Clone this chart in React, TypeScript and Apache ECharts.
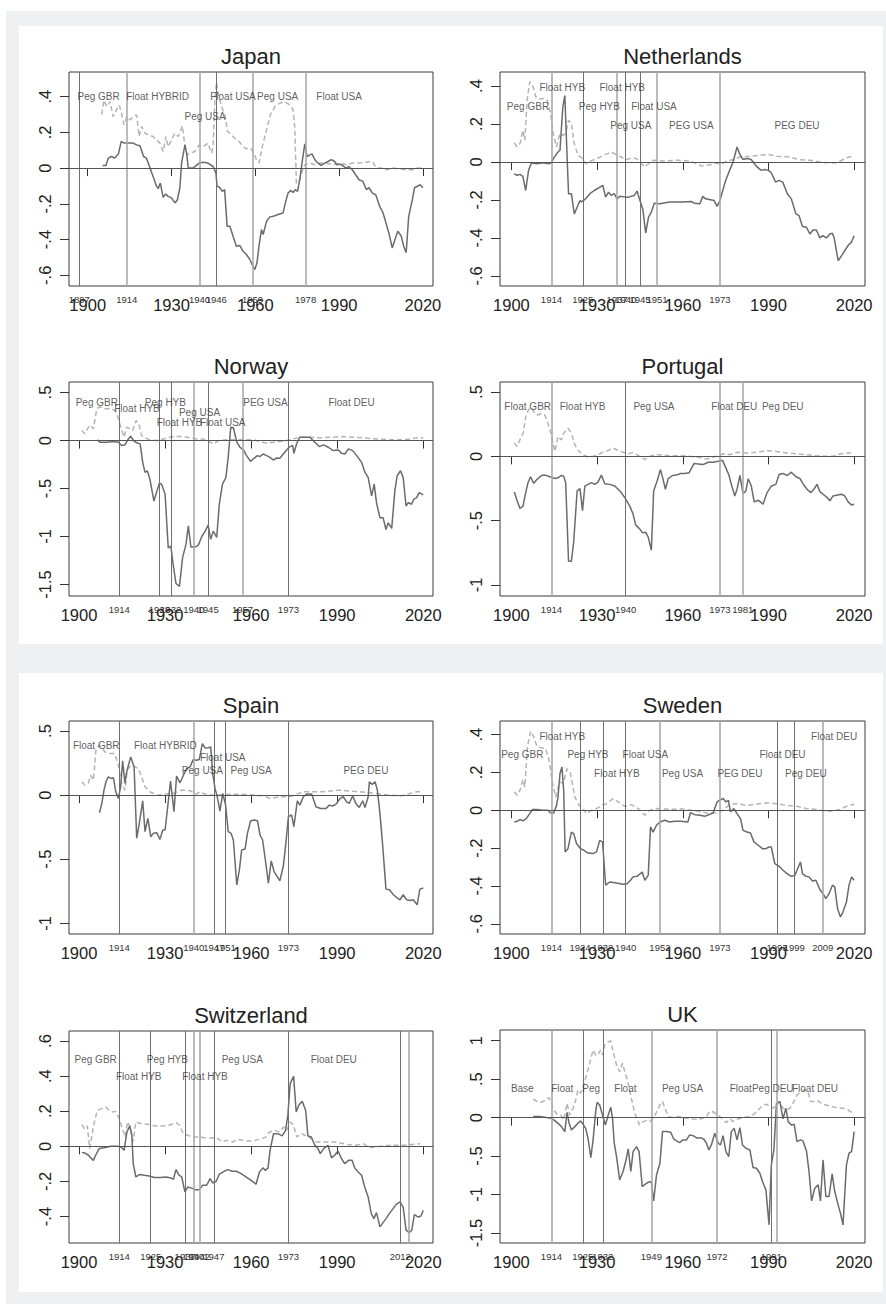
import React, { useEffect, useRef } from "react";
import * as echarts from "echarts";

type Pt = [number, number];
type Lab = [string, number, number];

const FONT = "'Liberation Sans', Arial, Helvetica, sans-serif";
const xTickYears = [1900, 1930, 1960, 1990, 2020];

// ---------------- Japan ----------------
const japanEvents = [1897, 1914, 1940, 1946, 1959, 1978];
const japanTones = ["d", "l", "l", "d", "l", "l"];
const japanYTicks = [-0.6, -0.4, -0.2, 0, 0.2, 0.4];
const japanSolid: Pt[] = [
  [1905.3, 0.015], [1906.5, 0.015], [1907.4, 0.056], [1908.5, 0.065], [1909.7, 0.056], [1911, 0.08], [1912, 0.15],
  [1913, 0.14], [1914, 0.14], [1916.3, 0.14], [1917.5, 0.13], [1918.7, 0.125], [1920, 0.065], [1921, 0.056],
  [1922.3, 0], [1923.4, -0.047], [1924.6, -0.1], [1925.2, -0.115], [1926, -0.084], [1927, -0.164], [1927.9, -0.145],
  [1928.8, -0.158], [1930, -0.167], [1931.2, -0.195], [1932.1, -0.177], [1933, -0.11], [1933.6, 0.028], [1934.8, 0.13],
  [1935.4, 0.084], [1936, 0], [1937.7, 0], [1939.9, 0.028], [1941.3, 0.033], [1943, 0.028], [1944.9, 0.009],
  [1945.9, -0.028], [1946.3, -0.1], [1947.3, -0.11], [1948.2, -0.13], [1949, -0.12], [1949.9, -0.325], [1950.9, -0.325],
  [1952, -0.38], [1953.2, -0.437], [1954.4, -0.433], [1955.6, -0.465], [1956.8, -0.484], [1958, -0.51], [1959.2, -0.55],
  [1959.8, -0.567], [1960.6, -0.53], [1961.3, -0.437], [1962.2, -0.344], [1962.8, -0.372], [1964, -0.298], [1965.2, -0.273],
  [1966.4, -0.27], [1968.1, -0.26], [1969.9, -0.251], [1970.9, -0.186], [1971.7, -0.14], [1972.6, -0.125], [1973.5, -0.136],
  [1974.3, -0.121], [1975.1, -0.13], [1975.9, -0.065], [1976.7, 0.028], [1977.7, 0.136], [1978.5, 0.065], [1979.5, 0.074],
  [1980.3, 0.08], [1981.3, 0.047], [1982.4, 0.028], [1983.6, 0.015], [1984.8, 0.028], [1986, 0.037], [1987.2, 0.047],
  [1988.4, 0.037], [1989.2, 0.019], [1990.2, 0.022], [1991.4, 0.013], [1992.3, 0], [1993.5, 0.009], [1994.7, -0.009],
  [1995.9, -0.037], [1997.1, -0.065], [1998.5, -0.074], [1999.7, -0.12], [2000.7, -0.11], [2001.9, -0.14], [2003.1, -0.149],
  [2004.5, -0.214], [2005.7, -0.25], [2006.6, -0.298], [2007.8, -0.363], [2009, -0.447], [2010.2, -0.39], [2011, -0.353],
  [2012.2, -0.38], [2013.1, -0.437], [2014, -0.474], [2014.9, -0.27], [2016.2, -0.177], [2017, -0.11], [2018.2, -0.1],
  [2019, -0.093], [2020, -0.11],
];
const japanDashed: Pt[] = [
  [1905, 0.3], [1905.8, 0.38], [1906.8, 0.344], [1908, 0.372], [1909.1, 0.288], [1910.3, 0.326], [1911.3, 0.353],
  [1912.1, 0.307], [1913, 0.242], [1914, 0.288], [1915.1, 0.27], [1916.3, 0.288], [1917.5, 0.298], [1918.4, 0.177],
  [1919.3, 0.233], [1920.5, 0.195], [1921.7, 0.186], [1923.4, 0.177], [1924.6, 0.158], [1925.8, 0.14], [1927, 0.093],
  [1928, 0.177], [1928.8, 0.12], [1930, 0.158], [1931.2, 0.195], [1932.4, 0.177], [1933.9, 0.236], [1934.8, 0.12],
  [1935.6, 0.074], [1936.8, 0.084], [1938.3, 0.093], [1939.9, 0.13], [1941.3, 0.12], [1943, 0.14], [1944.3, 0.084],
  [1944.9, 0.12], [1945.5, 0.38], [1946.1, 0.48], [1946.7, 0.42], [1947.9, 0.344], [1949.1, 0.3], [1950, 0.205],
  [1950.9, 0.195], [1952, 0.177], [1953.2, 0.158], [1954.4, 0.145], [1955.6, 0.12], [1956.8, 0.108], [1958.2, 0.112],
  [1959.2, 0.093], [1960.4, 0.047], [1961.3, 0.028], [1962.5, 0.12], [1964, 0.214], [1965.4, 0.3], [1967, 0.344],
  [1968.7, 0.363], [1970.5, 0.372], [1972.3, 0.353], [1973.5, 0.326], [1974.1, 0.233], [1974.7, -0.084], [1975.5, -0.084],
  [1976.5, -0.028], [1977.7, 0.019], [1979.5, 0.028], [1981.3, 0.019], [1983, 0.028], [1985.4, 0.028], [1987.8, 0.019],
  [1990.2, 0.028], [1992.6, 0.019], [1995, 0.028], [1997.3, 0.028], [1999.7, 0.033], [2001.9, 0.037], [2003.3, 0],
  [2005.7, 0], [2006.9, -0.009], [2009.3, 0], [2011.6, -0.004], [2014, -0.009], [2016.4, -0.009], [2017.6, 0], [2020, 0],
];
const japanRegimes: Lab[] = [
  ["Peg GBR", 1903.9, 0.4], ["Float HYBRID", 1925, 0.4], ["Peg USA", 1942, 0.288],
  ["Float USA", 1952, 0.4], ["Peg USA", 1968, 0.4], ["Float USA", 1990, 0.4],
];

// ---------------- Netherlands ----------------
const netherlandsEvents = [1914, 1925, 1937, 1940, 1945, 1951, 1973];
const netherlandsTones = ["l", "d", "l", "d", "d", "l", "l"];
const netherlandsYTicks = [-0.6, -0.4, -0.2, 0, 0.2, 0.4];
const netherlandsSolid: Pt[] = [
  [1901, -0.062], [1902, -0.07], [1903, -0.065], [1904, -0.076], [1905, -0.15], [1906, -0.044], [1907, -0.005],
  [1909, -0.009], [1911, -0.004], [1913, -0.009], [1914, -0.004], [1915, 0.026], [1916.3, 0.053], [1917, 0.062],
  [1918, 0.29], [1918.7, 0.35], [1919.5, 0.026], [1920, -0.167], [1921, -0.167], [1922, -0.273], [1923, -0.238],
  [1924, -0.203], [1924.5, -0.21], [1926, -0.194], [1927.5, -0.167], [1929, -0.15], [1931, -0.132], [1932, -0.123],
  [1933, -0.185], [1934, -0.159], [1935, -0.176], [1936, -0.167], [1937, -0.194], [1938, -0.18], [1940, -0.185],
  [1941, -0.185], [1943, -0.176], [1944, -0.153], [1945, -0.203], [1946, -0.247], [1947, -0.374], [1948, -0.29],
  [1949, -0.264], [1950, -0.217], [1952, -0.22], [1955.4, -0.211], [1960, -0.211], [1963, -0.208], [1964, -0.217],
  [1966, -0.22], [1967, -0.181], [1968, -0.194], [1971, -0.203], [1972, -0.234], [1973, -0.203], [1974, -0.15],
  [1975, -0.097], [1976.5, -0.04], [1977.6, 0], [1979, 0.079], [1980, 0.04], [1981, 0.014], [1983, 0.018], [1984, 0.012],
  [1986, -0.026], [1987.5, -0.044], [1988.7, -0.04], [1990, -0.044], [1991, -0.058], [1992.5, -0.106], [1993.7, -0.097],
  [1995, -0.106], [1996.6, -0.167], [1998, -0.194], [1999.6, -0.273], [2000.7, -0.282], [2001.9, -0.34], [2003.3, -0.344],
  [2004.5, -0.379], [2005.6, -0.358], [2006.8, -0.358], [2008, -0.4], [2009, -0.388], [2010.3, -0.4], [2011.5, -0.379],
  [2012.4, -0.375], [2013, -0.4], [2014.4, -0.52], [2015.6, -0.493], [2016.7, -0.467], [2018, -0.437], [2019, -0.423],
  [2020, -0.388],
];
const netherlandsDashed: Pt[] = [
  [1901, 0.1], [1902, 0.08], [1903, 0.097], [1904, 0.167], [1904.7, 0.115], [1905.5, 0.326], [1906.4, 0.423],
  [1907.6, 0.396], [1908.5, 0.344], [1909.7, 0.33], [1911, 0.335], [1912.5, 0.326], [1913.7, 0.256], [1914.6, 0.15],
  [1915.8, 0.08], [1917, 0.15], [1918, 0.141], [1919, 0.15], [1920, 0.22], [1921, 0.203], [1922, 0.097], [1923.3, 0.035],
  [1925, 0.018], [1926, -0.009], [1927.4, 0.005], [1929, 0.012], [1931, 0.026], [1933, 0.04], [1935, 0.053],
  [1936, 0.044], [1938, 0.03], [1940, 0.012], [1942, 0.021], [1943.8, 0.018], [1945.5, -0.009], [1946.7, -0.026],
  [1948, -0.009], [1949.6, 0.009], [1953, 0.005], [1958, 0.009], [1962.5, 0.005], [1965.4, -0.012], [1966.5, -0.021],
  [1969.5, -0.014], [1971.8, -0.005], [1973.5, -0.012], [1975.3, 0.005], [1977.6, 0.012], [1980, 0.026], [1983.5, 0.03],
  [1987, 0.035], [1990, 0.04], [1993, 0.03], [1997.5, 0.026], [2001, 0.012], [2004.5, 0.009], [2008, 0],
  [2011.5, -0.005], [2014, -0.004], [2016, 0.012], [2018, 0.026], [2020, 0.03],
];
const netherlandsRegimes: Lab[] = [
  ["Peg GBR", 1905.8, 0.294], ["Float HYB", 1917.8, 0.393], ["Peg HYB", 1930.8, 0.294], ["Float HYB", 1938.8, 0.393],
  ["Peg USA", 1941.8, 0.194], ["Float USA", 1949.9, 0.294], ["PEG USA", 1963, 0.194], ["PEG DEU", 2000, 0.194],
];

// ---------------- Norway ----------------
const norwayEvents = [1914, 1928, 1932, 1940, 1945, 1957, 1973];
const norwayTones = ["d", "d", "d", "l", "d", "l", "d"];
const norwayYTicks = [-1.5, -1, -0.5, 0, 0.5];
const norwaySolid: Pt[] = [
  [1906.4, 0.007], [1907.3, -0.017], [1909.6, -0.017], [1912, -0.01], [1913.7, -0.017], [1914.9, -0.052], [1916, -0.045],
  [1917.2, 0.017], [1918, 0.045], [1919, 0], [1920.1, -0.024], [1921.3, -0.035], [1922.2, -0.227], [1923, -0.332],
  [1923.8, -0.315], [1924.7, -0.402], [1926.1, -0.63], [1927, -0.542], [1928, -0.444], [1928.8, -0.455], [1930, -0.56],
  [1931.1, -1.12], [1932, -1.1], [1932.9, -1.31], [1933.8, -1.49], [1935, -1.52], [1936.1, -1.22], [1937.3, -1.08],
  [1938.1, -0.89], [1939, -1.11], [1940.4, -1.11], [1941.6, -1.09], [1942.8, -1.0], [1944, -0.944], [1945, -0.88],
  [1945.9, -1.03], [1946.8, -0.944], [1948, -1.01], [1948.9, -0.664], [1950, -0.455], [1951.2, -0.385], [1952, -0.175],
  [1952.9, 0.14], [1953.8, 0.133], [1955, -0.017], [1956.1, -0.07], [1957.3, -0.098], [1958.4, -0.157], [1959.8, -0.217],
  [1961, -0.185], [1962.2, -0.157], [1963, -0.168], [1964.2, -0.14], [1965.4, -0.157], [1966.6, -0.175], [1967.7, -0.203],
  [1968.9, -0.182], [1970, -0.185], [1971.2, -0.14], [1972.4, -0.098], [1973.5, -0.063], [1974.5, -0.052], [1974.9, -0.133],
  [1975.9, -0.028], [1977, 0.035], [1978.8, 0.035], [1980.5, 0.035], [1982.2, -0.017], [1983.8, -0.063], [1985.2, -0.045],
  [1986.9, -0.07], [1988.6, -0.105], [1990.4, -0.098], [1991.5, -0.133], [1992.7, -0.14], [1993.9, -0.087], [1995.4, -0.105],
  [1996.8, -0.157], [1998.5, -0.227], [1999.7, -0.332], [2000.8, -0.385], [2002, -0.577], [2002.9, -0.455], [2003.7, -0.647],
  [2004.9, -0.804], [2006, -0.804], [2007, -0.927], [2007.8, -0.857], [2009, -0.916], [2010.1, -0.524], [2010.9, -0.367],
  [2012.1, -0.315], [2013, -0.385], [2014, -0.682], [2014.8, -0.647], [2015.9, -0.664], [2016.7, -0.612], [2017.7, -0.594],
  [2018.6, -0.542], [2020, -0.566],
];
const norwayDashed: Pt[] = [
  [1901, 0.105], [1902, 0.07], [1903.3, 0.14], [1904, 0.157], [1905, 0.122], [1906.2, 0.332], [1907.3, 0.35],
  [1909, 0.332], [1910.8, 0.332], [1912.5, 0.315], [1913.7, 0.227], [1914.9, 0.105], [1915.7, 0.035], [1916.6, 0.14],
  [1917.8, 0.122], [1918.7, 0.105], [1919.9, 0.21], [1921, 0.157], [1921.8, 0.052], [1923, 0.028], [1924.7, 0.007],
  [1927, 0], [1929.4, 0.017], [1931.7, 0.035], [1934, 0.042], [1936.4, 0.042], [1938.7, 0.028], [1941, 0.017],
  [1943.3, 0.017], [1945, -0.007], [1946.8, -0.035], [1948.6, 0], [1951.5, 0.007], [1956, 0.007], [1960.8, 0.007],
  [1965.4, -0.028], [1967.7, -0.017], [1971.2, -0.007], [1974.7, 0.017], [1977, 0.035], [1980.5, 0.035], [1984, 0.028],
  [1988.6, 0.035], [1992, 0.042], [1995.6, 0.035], [1999, 0.028], [2003.7, 0.017], [2008.4, 0.007], [2011.9, 0.007],
  [2015.4, 0.017], [2017.7, 0.028], [2020, 0.028],
];
const norwayRegimes: Lab[] = [
  ["Peg GBR", 1906.2, 0.392], ["Float HYB", 1920.2, 0.332], ["Peg HYB", 1930.1, 0.392], ["Peg USA", 1942, 0.29],
  ["Float HYB", 1935, 0.189], ["Float USA", 1950.1, 0.189], ["PEG USA", 1965, 0.392], ["Float DEU", 1995, 0.392],
];

// ---------------- Portugal ----------------
const portugalEvents = [1914, 1940, 1973, 1981];
const portugalTones = ["l", "d", "l", "l"];
const portugalYTicks = [-1, -0.5, 0, 0.5];
const portugalSolid: Pt[] = [
  [1901, -0.277], [1902, -0.346], [1903, -0.405], [1904, -0.39], [1905, -0.282], [1905.8, -0.205], [1906.7, -0.159],
  [1907.8, -0.21], [1909, -0.179], [1910.5, -0.149], [1911.7, -0.146], [1913.5, -0.159], [1915.2, -0.172], [1916.3, -0.167],
  [1917.5, -0.149], [1918.3, -0.154], [1919, -0.205], [1920, -0.815], [1921, -0.815], [1921.8, -0.667], [1923, -0.269],
  [1924, -0.251], [1924.9, -0.423], [1925.7, -0.231], [1926.8, -0.218], [1928, -0.205], [1929.2, -0.218], [1930.3, -0.2],
  [1931.5, -0.146], [1932.7, -0.213], [1934.4, -0.218], [1936.2, -0.231], [1938, -0.269], [1939.7, -0.321], [1941.4, -0.385],
  [1942.6, -0.449], [1943.5, -0.533], [1944.9, -0.564], [1945.9, -0.595], [1947, -0.59], [1947.9, -0.628], [1949, -0.731],
  [1949.8, -0.269], [1951, -0.192], [1952.2, -0.103], [1953.1, -0.179], [1953.9, -0.256], [1954.9, -0.174], [1956.4, -0.149],
  [1957.8, -0.146], [1959.2, -0.133], [1960.7, -0.133], [1962.2, -0.128], [1963.9, -0.056], [1965.4, -0.059], [1967.1, -0.064],
  [1968.9, -0.046], [1970.6, -0.046], [1972.4, -0.038], [1973.9, -0.031], [1975.1, -0.09], [1976.2, -0.149], [1977, -0.218],
  [1978.2, -0.308], [1979, -0.256], [1980, -0.149], [1981.1, -0.29], [1982.1, -0.269], [1982.9, -0.174], [1984, -0.231],
  [1985, -0.354], [1986.4, -0.341], [1988.1, -0.372], [1989.5, -0.282], [1991, -0.231], [1992.6, -0.218], [1993.7, -0.141],
  [1995.1, -0.133], [1996.6, -0.149], [1998, -0.123], [1999.6, -0.159], [2001, -0.172], [2002.1, -0.213], [2003.5, -0.256],
  [2004.8, -0.282], [2005.9, -0.256], [2007, -0.218], [2008, -0.274], [2009.1, -0.295], [2010.3, -0.315], [2011.5, -0.346],
  [2012.6, -0.308], [2014.2, -0.3], [2015.6, -0.295], [2016.7, -0.308], [2017.9, -0.354], [2019.1, -0.379], [2020, -0.372],
];
const portugalDashed: Pt[] = [
  [1901, 0.103], [1902, 0.077], [1903.2, 0.141], [1904.1, 0.18], [1905, 0.308], [1906, 0.364], [1907, 0.38],
  [1908.2, 0.333], [1909.3, 0.321], [1910.5, 0.333], [1911.7, 0.321], [1912.8, 0.256], [1914, 0.167], [1915.2, 0.038],
  [1916.3, 0.154], [1917.5, 0.128], [1918.3, 0.18], [1919.8, 0.218], [1921, 0.18], [1922.2, 0.09], [1923.7, 0.038],
  [1925, 0.013], [1926.8, -0.005], [1928.6, 0], [1930.3, 0.013], [1932.1, 0.033], [1933.9, 0.046], [1935.6, 0.064],
  [1937.4, 0.046], [1939.1, 0.031], [1940.9, 0.02], [1942.6, 0.031], [1944.9, 0], [1946.7, -0.026], [1948.4, 0],
  [1950.8, 0.013], [1955.4, 0.005], [1960.1, 0.005], [1964.8, -0.005], [1968.3, -0.021], [1971.8, 0], [1974.1, 0.02],
  [1976.5, 0.013], [1978.8, 0.031], [1982.3, 0.026], [1985.8, 0.031], [1989.3, 0.044], [1992.8, 0.038], [1996.3, 0.026],
  [1999.8, 0.02], [2003.3, 0.013], [2006.8, 0.005], [2010.3, 0], [2012.6, 0], [2015, 0.018], [2017.3, 0.026], [2020, 0.026],
];
const portugalRegimes: Lab[] = [
  ["Float GBR", 1905.7, 0.385], ["Float HYB", 1924.9, 0.385], ["Peg USA", 1949.9, 0.385],
  ["Float DEU", 1978, 0.385], ["Peg DEU", 1995, 0.385],
];

// ---------------- Spain ----------------
const spainEvents = [1914, 1940, 1947, 1951, 1973];
const spainTones = ["d", "l", "d", "d", "d"];
const spainYTicks = [-1, -0.5, 0, 0.5];
const spainSolid: Pt[] = [
  [1907.1, -0.137], [1907.9, -0.07], [1908.7, 0.039], [1909.4, 0.104], [1910.2, 0.142], [1911.2, 0.13], [1912, 0.135],
  [1912.8, 0.026], [1913.7, -0.026], [1914.5, 0.065], [1915.2, 0.267], [1916, 0.091], [1916.6, 0.181], [1918, 0.298],
  [1919.2, 0.22], [1920.1, -0.337], [1921, -0.22], [1922.2, -0.044], [1923, -0.285], [1924, -0.181], [1925, -0.324],
  [1925.9, -0.298], [1927.1, -0.293], [1928.2, -0.345], [1929.2, -0.272], [1930, -0.272], [1931.1, -0.052], [1931.9, 0.109],
  [1933.1, -0.13], [1934, 0.148], [1935.2, 0.096], [1936.4, 0.155], [1937.5, 0.207], [1938.7, 0.22], [1939.8, 0.277],
  [1941, 0.272], [1941.9, 0.277], [1943, 0.402], [1943.9, 0.368], [1945.1, 0.37], [1945.9, 0.376], [1946.6, 0.168],
  [1947.4, 0.052], [1948.2, -0.013], [1949.1, -0.124], [1950.1, 0.013], [1951.1, -0.078], [1952, -0.285], [1953, -0.298],
  [1953.8, -0.35], [1955, -0.7], [1955.9, -0.583], [1956.7, -0.427], [1957.9, -0.42], [1958.7, -0.298], [1959.8, -0.202],
  [1961, -0.194], [1962.2, -0.199], [1963.1, -0.311], [1964, -0.35], [1965.1, -0.531], [1966, -0.687], [1967, -0.513],
  [1968, -0.596], [1969.1, -0.635], [1970, -0.668], [1971.2, -0.557], [1972.1, -0.376], [1973, -0.168], [1974.1, -0.155],
  [1974.9, -0.246], [1976.1, -0.044], [1977, -0.078], [1978.2, -0.013], [1979.3, 0.008], [1981.1, 0.008], [1982.6, -0.091],
  [1984.2, -0.104], [1986.1, -0.104], [1987.2, -0.078], [1988.4, -0.085], [1989.6, -0.07], [1991, -0.026], [1992.1, -0.013],
  [1993.3, -0.052], [1994.2, -0.065], [1995.4, -0.005], [1996.5, -0.065], [1997.7, -0.096], [1998.9, -0.044], [1999.7, -0.096],
  [2000.8, -0.013], [2001.2, 0.104], [2002.2, 0.083], [2003.2, 0.104], [2004, 0.039], [2004.9, -0.142], [2005.8, -0.376],
  [2007, -0.733], [2008.2, -0.738], [2009.6, -0.777], [2011, -0.803], [2011.9, -0.816], [2013, -0.777], [2014.2, -0.816],
  [2015.4, -0.821], [2016.5, -0.816], [2017.9, -0.855], [2018.8, -0.733], [2020, -0.725],
];
const spainDashed: Pt[] = [
  [1901, 0.104], [1902, 0.078], [1903.3, 0.096], [1904, 0.155], [1905, 0.117], [1905.9, 0.35], [1906.9, 0.389],
  [1907.9, 0.376], [1909, 0.337], [1910.8, 0.324], [1912.5, 0.324], [1913.7, 0.233], [1914.9, 0.091], [1916, 0.039],
  [1916.8, 0.194], [1918, 0.233], [1919.5, 0.22], [1920.7, 0.207], [1921.8, 0.142], [1923, 0.065], [1924.7, 0.026],
  [1927.1, 0], [1930, 0.008], [1932.9, 0.013], [1935.8, 0.039], [1938.7, 0.034], [1941, 0.008], [1942.2, 0.026],
  [1943.9, 0.008], [1946.8, 0], [1951.5, 0.005], [1956.1, 0.008], [1960.8, 0], [1964.2, -0.005], [1966.6, -0.026],
  [1970, -0.013], [1973.5, -0.013], [1975.9, 0.008], [1978.2, 0.026], [1981.7, 0.026], [1985.2, 0.026], [1988.6, 0.034],
  [1991, 0.039], [1994.4, 0.031], [1997.9, 0.026], [2001.4, 0.018], [2004.9, 0.008], [2008.4, 0], [2011.9, -0.008],
  [2015.4, 0.013], [2017.7, 0.026], [2018.9, 0.026],
];
const spainRegimes: Lab[] = [
  ["Float GBR", 1906, 0.389], ["Float HYBRID", 1930.1, 0.389], ["Float USA", 1950.1, 0.29],
  ["Peg USA", 1943, 0.189], ["Peg USA", 1960, 0.189], ["PEG DEU", 2000, 0.189],
];

// ---------------- Sweden ----------------
const swedenEvents = [1914, 1924, 1932, 1940, 1952, 1973, 1993, 1999, 2009];
const swedenTones = ["l", "d", "d", "d", "l", "l", "d", "d", "l"];
const swedenYTicks = [-0.6, -0.4, -0.2, 0, 0.2, 0.4];
const swedenSolid: Pt[] = [
  [1901, -0.062], [1902, -0.058], [1903, -0.049], [1904, -0.056], [1905.2, -0.044], [1906.4, -0.018], [1907.4, 0.004],
  [1908.8, 0.004], [1911.1, 0], [1912.8, 0], [1913.7, -0.014], [1914.8, -0.014], [1915.8, 0.026], [1916.3, 0.07],
  [1917, 0.194], [1917.7, 0.229], [1918.3, 0.106], [1918.8, -0.22], [1919.8, -0.203], [1921, -0.115], [1921.8, -0.123],
  [1922.8, -0.176], [1924.2, -0.203], [1925.3, -0.211], [1926.8, -0.226], [1928.6, -0.229], [1929.8, -0.22], [1930.9, -0.159],
  [1931.9, -0.167], [1933, -0.396], [1934.4, -0.379], [1936.8, -0.384], [1939.1, -0.391], [1940.5, -0.388], [1941.7, -0.37],
  [1942.6, -0.352], [1944, -0.349], [1945.8, -0.326], [1946.7, -0.37], [1947.9, -0.344], [1948.7, -0.088], [1949.6, -0.115],
  [1950.8, -0.079], [1952, -0.062], [1953.7, -0.053], [1955.4, -0.062], [1957.2, -0.058], [1959.5, -0.058], [1961.8, -0.062],
  [1962.7, -0.012], [1964.2, -0.023], [1966, -0.026], [1967.7, -0.032], [1969.5, -0.021], [1970.6, -0.014], [1972, 0.044],
  [1973.2, 0.056], [1974.1, 0.062], [1975.1, 0.044], [1976, 0.053], [1976.7, -0.009], [1977.9, 0.009], [1979, -0.018],
  [1980.2, -0.044], [1981.1, -0.106], [1982.5, -0.115], [1983.7, -0.12], [1984.9, -0.167], [1986.4, -0.185], [1987.9, -0.203],
  [1989.1, -0.203], [1990.2, -0.194], [1991, -0.194], [1992.2, -0.282], [1993.7, -0.296], [1995.1, -0.317], [1996.5, -0.335],
  [1998, -0.349], [1999.2, -0.344], [2000, -0.317], [2001.2, -0.273], [2001.9, -0.335], [2003.1, -0.349], [2004.2, -0.352],
  [2005.4, -0.374], [2006.6, -0.37], [2008, -0.419], [2009.1, -0.441], [2010.1, -0.467], [2011.2, -0.441], [2012.4, -0.396],
  [2013.2, -0.405], [2014.2, -0.52], [2015.2, -0.564], [2016.1, -0.537], [2017.3, -0.485], [2018.2, -0.396], [2019.1, -0.352],
  [2020, -0.37],
];
const swedenDashed: Pt[] = [
  [1901, 0.097], [1902, 0.079], [1903, 0.106], [1904, 0.162], [1904.7, 0.123], [1905.6, 0.335], [1906.7, 0.418],
  [1907.8, 0.388], [1909, 0.335], [1910.5, 0.331], [1912, 0.326], [1913.2, 0.264], [1914.4, 0.141], [1915.5, 0.07],
  [1916.9, 0.15], [1918.1, 0.141], [1919.5, 0.22], [1920.7, 0.194], [1922.2, 0.07], [1923.7, 0.026], [1925.1, 0.009],
  [1926.3, -0.018], [1928, 0], [1929.8, 0.009], [1931.5, 0.026], [1933.3, 0.035], [1935.6, 0.062], [1937.4, 0.044],
  [1939.7, 0.021], [1942, 0.03], [1944.4, 0.009], [1946.7, -0.026], [1948.4, 0], [1950.8, 0.009], [1955.4, 0.005],
  [1960.1, 0.007], [1964.8, -0.004], [1968.3, -0.014], [1971.8, -0.014], [1974.1, 0], [1976.5, 0.032], [1978.8, 0.035],
  [1982.3, 0.026], [1985.8, 0.032], [1989.3, 0.039], [1992.8, 0.035], [1996.3, 0.026], [1999.8, 0.021], [2003.3, 0.009],
  [2006.8, 0.004], [2010.3, -0.005], [2012.6, -0.004], [2015, 0.004], [2017.3, 0.021], [2020, 0.032],
];
const swedenRegimes: Lab[] = [
  ["Peg GBR", 1903.8, 0.294], ["Float HYB", 1917.8, 0.392], ["Peg HYB", 1926.8, 0.294], ["Float HYB", 1936.9, 0.194],
  ["Float USA", 1946.9, 0.294], ["Peg USA", 1959.9, 0.194], ["PEG DEU", 1980, 0.194], ["Float DEU", 1994.9, 0.294],
  ["Peg DEU", 2003.1, 0.194], ["Float DEU", 2013, 0.392],
];

// ---------------- Switzerland ----------------
const switzerlandEvents = [1914, 1925, 1937, 1940, 1942, 1947, 1973, 2012, 2015];
const switzerlandEventLabels = [1914, 1925, 1937, 1940, 1942, 1947, 1973, 2012];
const switzerlandTones = ["d", "d", "d", "l", "l", "d", "d", "d", "l"];
const switzerlandYTicks = [-0.4, -0.2, 0, 0.2, 0.4, 0.6];
const switzerlandSolid: Pt[] = [
  [1901, -0.036], [1902, -0.038], [1903.3, -0.051], [1904.1, -0.066], [1905, -0.08], [1905.8, -0.051], [1907, -0.013],
  [1908.7, -0.008], [1911.1, 0], [1913.4, 0], [1914.6, -0.004], [1915.7, -0.023], [1916.7, 0.082], [1917.7, 0.116],
  [1918.4, 0.063], [1918.9, -0.099], [1919.8, -0.175], [1921, -0.161], [1922.7, -0.165], [1924.5, -0.169], [1926.2, -0.178],
  [1928.5, -0.178], [1930.3, -0.175], [1932, -0.18], [1932.9, -0.188], [1933.8, -0.133], [1934.7, -0.161], [1935.8, -0.175],
  [1936.9, -0.26], [1937.9, -0.232], [1939, -0.237], [1940.5, -0.247], [1941.9, -0.247], [1943.1, -0.222], [1944.5, -0.222],
  [1945.7, -0.184], [1946.6, -0.209], [1947.8, -0.199], [1948.9, -0.159], [1950.3, -0.146], [1951.8, -0.133], [1953.4, -0.142],
  [1954.8, -0.142], [1956.5, -0.156], [1958.3, -0.175], [1960, -0.194], [1961.7, -0.216], [1962.9, -0.146], [1964.1, -0.123],
  [1965, -0.137], [1965.9, -0.123], [1966.6, -0.023], [1967.8, 0.072], [1969.3, 0.072], [1970.8, 0.059], [1972, 0.091],
  [1972.8, 0.177], [1973.6, 0.357], [1974.8, 0.399], [1975.7, 0.196], [1976.7, 0.237], [1977.8, 0.256], [1979, 0.205],
  [1979.8, 0.059], [1981, 0.053], [1982.1, 0.009], [1983.3, -0.013], [1984.1, -0.042], [1985.3, -0.013], [1986.8, 0.006],
  [1988, -0.066], [1989.1, -0.051], [1990.3, -0.027], [1991.5, -0.07], [1992.6, -0.099], [1994, -0.08], [1995.2, -0.08],
  [1996.1, -0.123], [1997.3, -0.146], [1998.5, -0.165], [1999.6, -0.232], [2000.8, -0.289], [2001.9, -0.384], [2002.8, -0.412],
  [2003.7, -0.378], [2004.9, -0.459], [2006, -0.435], [2007.2, -0.408], [2008.4, -0.378], [2009.5, -0.355], [2010.5, -0.332],
  [2011.9, -0.317], [2013, -0.346], [2014, -0.478], [2015.1, -0.492], [2016, -0.478], [2016.9, -0.389], [2018.3, -0.403],
  [2019.2, -0.397], [2020, -0.365],
];
const switzerlandDashed: Pt[] = [
  [1901, 0.123], [1902, 0.097], [1902.9, 0.116], [1903.7, -0.013], [1904.7, 0.082], [1905.6, 0.158], [1906.4, 0.205],
  [1907.9, 0.215], [1909.3, 0.224], [1910.5, 0.205], [1911.7, 0.196], [1912.8, 0.199], [1914, 0.158], [1915.1, 0.101],
  [1916.1, 0.053], [1916.9, 0.139], [1917.8, 0.11], [1918.9, 0.028], [1919.8, 0.139], [1921.6, 0.129], [1923.9, 0.125],
  [1926.8, 0.116], [1929.1, 0.116], [1931.5, 0.12], [1933.8, 0.135], [1935, 0.12], [1936.4, 0.072], [1937.9, 0.063],
  [1939.6, 0.053], [1941.9, 0.053], [1943.7, 0.049], [1944.9, 0.044], [1946.6, 0.049], [1948.4, 0.044], [1949.9, 0.025],
  [1951.3, 0.034], [1953.6, 0.025], [1955.3, 0.04], [1957.1, 0.034], [1958.8, 0.03], [1960.6, 0.03], [1962.9, 0.04],
  [1965.2, 0.053], [1966.4, 0.082], [1968.2, 0.091], [1969.9, 0.082], [1971.3, 0.11], [1972.5, 0.091], [1973.6, 0.139],
  [1974.8, 0.12], [1975.9, 0.053], [1977.5, 0.072], [1979.2, 0.059], [1981, 0.044], [1982.7, 0.025], [1986.2, 0.025],
  [1989.7, 0.025], [1993.2, 0.011], [1996.7, 0.006], [1999, 0.015], [2001.4, -0.009], [2004.9, 0], [2008.4, 0.006],
  [2011.9, 0.006], [2015.4, 0.009], [2018.9, 0.015],
];
const switzerlandRegimes: Lab[] = [
  ["Peg GBR", 1905.8, 0.494], ["Float HYB", 1920.8, 0.395], ["Peg HYB", 1930.8, 0.494],
  ["Float HYB", 1943.9, 0.395], ["Peg USA", 1956.9, 0.494], ["Float DEU", 1988.8, 0.494],
];

// ---------------- UK ----------------
const ukEvents = [1914, 1925, 1932, 1949, 1972, 1991, 1993];
const ukTones = ["l", "d", "d", "l", "l", "d", "l"];
const ukYTicks = [-1.5, -1, -0.5, 0, 0.5, 1];
const ukSolid: Pt[] = [
  [1907.6, 0.013], [1909.9, 0.013], [1912.3, 0], [1914, -0.009], [1915.2, -0.039], [1916.3, -0.074], [1917.5, -0.117],
  [1918.7, -0.182], [1919.5, 0.069], [1920.2, -0.074], [1921, -0.16], [1922.2, -0.117], [1923.3, -0.074], [1924.2, -0.043],
  [1925.1, -0.087], [1926, -0.139], [1926.8, -0.268], [1927.8, -0.519], [1928.6, -0.29], [1929.5, 0.078], [1930, 0.199],
  [1930.9, 0.165], [1931.9, 0.035], [1932.9, -0.095], [1933.9, 0.035], [1934.8, 0.134], [1935.4, -0.009], [1936, -0.333],
  [1936.8, -0.506], [1937.9, -0.81], [1939.1, -0.701], [1940, -0.571], [1940.9, -0.407], [1941.8, -0.701], [1942.6, -0.442],
  [1943.8, -0.377], [1944.7, -0.442], [1945.8, -0.896], [1947.3, -0.853], [1948.4, -0.831], [1949, -0.84], [1949.8, -1.082],
  [1950.8, -0.745], [1952, -0.593], [1952.9, -0.182], [1954.3, -0.182], [1955.8, -0.19], [1956.8, -0.277], [1957.8, -0.303],
  [1958.9, -0.325], [1960.1, -0.29], [1961.3, -0.29], [1962.4, -0.225], [1963.6, -0.234], [1965, -0.268], [1966.2, -0.26],
  [1967.4, -0.281], [1968.3, -0.333], [1969.1, -0.42], [1970, -0.355], [1971.2, -0.203], [1972.4, -0.333], [1973.2, -0.355],
  [1974.1, -0.234], [1975.1, -0.442], [1976.1, -0.506], [1977, -0.182], [1978, -0.139], [1979, -0.29], [1980, -0.13],
  [1980.9, -0.355], [1982.1, -0.398], [1983.5, -0.42], [1984.6, -0.649], [1985.8, -0.658], [1987, -0.723], [1987.9, -0.831],
  [1989.1, -0.939], [1990.2, -1.394], [1991, -0.615], [1991.9, -0.42], [1992.8, 0.186], [1994, 0.208], [1995.1, -0.017],
  [1996.1, 0.121], [1996.9, -0.052], [1998, -0.095], [1999, -0.087], [2000, -0.312], [2001.2, -0.29], [2002.1, -0.303],
  [2003.3, -0.433], [2004.2, -0.701], [2005.1, -1.082], [2006.2, -0.918], [2007.4, -0.874], [2008.2, -1.082], [2009.1, -0.55],
  [2010.1, -1.026], [2011.2, -1.026], [2012.3, -0.732], [2013.2, -0.961], [2014.4, -1.134], [2015.2, -1.242], [2016.1, -1.394],
  [2017.3, -0.615], [2018.2, -0.463], [2019.1, -0.442], [2020, -0.182],
];
const ukDashed: Pt[] = [
  [1907.6, 0.242], [1909, 0.208], [1910.5, 0.199], [1912, 0.229], [1913.2, 0.26], [1914, 0.186], [1914.8, 0.1],
  [1916, 0.043], [1917.2, 0.035], [1918.3, -0.03], [1919.5, 0.186], [1920.4, 0.035], [1921.6, 0.121], [1922.5, 0.229],
  [1923.3, 0.359], [1924.2, 0.316], [1925.1, 0.403], [1926.3, 0.554], [1927.4, 0.706], [1928.6, 0.879], [1929.5, 0.814],
  [1930.3, 0.814], [1931.2, 0.879], [1931.9, 0.814], [1932.7, 0.944], [1933.9, 0.987], [1934.8, 0.996], [1935.6, 0.857],
  [1936.8, 0.684], [1937.9, 0.597], [1938.9, 0.706], [1939.7, 0.597], [1940.9, 0.446], [1942, 0.251], [1943.2, 0.056],
  [1944.4, -0.052], [1944.9, -0.095], [1946.1, -0.052], [1947.3, -0.039], [1948.4, -0.052], [1949.6, -0.009], [1950.8, 0.069],
  [1952, 0.165], [1952.9, 0.208], [1953.7, 0.13], [1954.9, 0.013], [1956.6, 0], [1958.9, 0.013], [1961.3, -0.009],
  [1963.6, -0.017], [1965.9, -0.022], [1968.3, 0.013], [1969.5, 0.087], [1970.9, 0.069], [1972.4, 0.035], [1974.1, -0.03],
  [1975.3, -0.065], [1976.5, -0.017], [1977.6, -0.052], [1979.4, -0.017], [1981.1, 0], [1982.9, 0.013], [1984.6, 0.035],
  [1986.4, 0.1], [1988.1, 0.165], [1989.3, 0.173], [1990.5, 0.143], [1991.6, 0.121], [1992.8, 0.165], [1994, 0.208],
  [1995.1, 0.121], [1996.3, 0.1], [1997.5, 0.121], [1998.9, 0.208], [2000, 0.294], [2001.2, 0.329], [2002.7, 0.359],
  [2003.9, 0.338], [2004.7, 0.208], [2006.2, 0.208], [2007.4, 0.216], [2009.1, 0.173], [2011.5, 0.152], [2013.8, 0.13],
  [2016.1, 0.121], [2017.9, 0.1], [2019.1, 0.069], [2020, 0.043],
];
const ukRegimes: Lab[] = [
  ["Base", 1903.8, 0.381], ["Float", 1917.8, 0.381], ["Peg", 1927.9, 0.381], ["Float", 1939.9, 0.381],
  ["Peg USA", 1959.9, 0.381], ["Float", 1980.3, 0.381], ["Peg DEU", 1991.5, 0.381], ["Float DEU", 2006.3, 0.381],
];

// ---------------- panel assembly ----------------
interface Panel {
  name: string;
  box: [number, number, number, number];
  xRange: [number, number];
  yRange: [number, number];
  yTicks: number[];
  events: number[];
  eventLabels: number[];
  tones: string[];
  solid: Pt[];
  dashed: Pt[];
  regimes: Lab[];
}

const panels: Panel[] = [
  { name: "Japan", box: [69, 72, 364, 214], xRange: [1893.3, 2023.6], yRange: [-0.66, 0.538], yTicks: japanYTicks,
    events: japanEvents, eventLabels: japanEvents, tones: japanTones, solid: japanSolid, dashed: japanDashed, regimes: japanRegimes },
  { name: "Netherlands", box: [500, 72, 365, 214], xRange: [1896, 2023.8], yRange: [-0.653, 0.474], yTicks: netherlandsYTicks,
    events: netherlandsEvents, eventLabels: netherlandsEvents, tones: netherlandsTones, solid: netherlandsSolid, dashed: netherlandsDashed, regimes: netherlandsRegimes },
  { name: "Norway", box: [69, 382, 364, 214], xRange: [1896.5, 2023.4], yRange: [-1.62, 0.61], yTicks: norwayYTicks,
    events: norwayEvents, eventLabels: norwayEvents, tones: norwayTones, solid: norwaySolid, dashed: norwayDashed, regimes: norwayRegimes },
  { name: "Portugal", box: [500, 382, 365, 214], xRange: [1896, 2023.8], yRange: [-1.086, 0.578], yTicks: portugalYTicks,
    events: portugalEvents, eventLabels: portugalEvents, tones: portugalTones, solid: portugalSolid, dashed: portugalDashed, regimes: portugalRegimes },
  { name: "Spain", box: [69, 721, 364, 213], xRange: [1896.5, 2023.4], yRange: [-1.083, 0.578], yTicks: spainYTicks,
    events: spainEvents, eventLabels: spainEvents, tones: spainTones, solid: spainSolid, dashed: spainDashed, regimes: spainRegimes },
  { name: "Sweden", box: [500, 721, 365, 213], xRange: [1896, 2023.8], yRange: [-0.654, 0.472], yTicks: swedenYTicks,
    events: swedenEvents, eventLabels: swedenEvents, tones: swedenTones, solid: swedenSolid, dashed: swedenDashed, regimes: swedenRegimes },
  { name: "Switzerland", box: [69, 1031, 364, 212], xRange: [1896.5, 2023.4], yRange: [-0.551, 0.657], yTicks: switzerlandYTicks,
    events: switzerlandEvents, eventLabels: switzerlandEventLabels, tones: switzerlandTones, solid: switzerlandSolid, dashed: switzerlandDashed, regimes: switzerlandRegimes },
  { name: "UK", box: [500, 1030, 365, 213], xRange: [1896, 2023.8], yRange: [-1.63, 1.139], yTicks: ukYTicks,
    events: ukEvents, eventLabels: ukEvents, tones: ukTones, solid: ukSolid, dashed: ukDashed, regimes: ukRegimes },
];

const fmtY = (v: number): string => {
  if (Math.abs(v) < 1e-9) return "0";
  const s = String(Math.round(v * 10) / 10);
  return s.replace(/^(-?)0\./, "$1.");
};
const fmtYear = (v: number): string => String(Math.round(v));

function buildOption(): any {
  const grid: any[] = [];
  const xAxis: any[] = [];
  const yAxis: any[] = [];
  const series: any[] = [];
  const graphic: any[] = [
    { type: "rect", z: -10, shape: { x: 6, y: 11, width: 880, height: 648 }, style: { fill: "#eef0f1" } },
    { type: "rect", z: -9, shape: { x: 19, y: 26, width: 864, height: 618 }, style: { fill: "#ffffff" } },
    { type: "rect", z: -10, shape: { x: 6, y: 659, width: 880, height: 645 }, style: { fill: "#eef0f1" } },
    { type: "rect", z: -9, shape: { x: 19, y: 673, width: 864, height: 619 }, style: { fill: "#ffffff" } },
  ];

  panels.forEach((p, i) => {
    const [left, top, width, height] = p.box;
    grid.push({ left, top, width, height, show: true, borderColor: "#3a3a3a", borderWidth: 1, backgroundColor: "transparent" });
    xAxis.push({
      type: "value", gridIndex: i, min: p.xRange[0], max: p.xRange[1],
      axisLine: { show: false },
      axisTick: { show: true, length: 8, customValues: xTickYears, lineStyle: { color: "#333", width: 1 } },
      axisLabel: { customValues: xTickYears, fontSize: 16.5, color: "#222", margin: 10, fontFamily: FONT, formatter: fmtYear },
      splitLine: { show: false },
    });
    xAxis.push({
      type: "value", gridIndex: i, min: p.xRange[0], max: p.xRange[1], position: "bottom",
      axisLine: { show: false }, axisTick: { show: false },
      axisLabel: { customValues: p.eventLabels, fontSize: 9.5, color: "#333", margin: 8, fontFamily: FONT, formatter: fmtYear },
      splitLine: { show: false },
    });
    yAxis.push({
      type: "value", gridIndex: i, min: p.yRange[0], max: p.yRange[1],
      axisLine: { show: false },
      axisTick: { show: true, length: 9, customValues: p.yTicks, lineStyle: { color: "#333", width: 1 } },
      axisLabel: { customValues: p.yTicks, rotate: 90, fontSize: 16.5, color: "#222", margin: 16, formatter: fmtY, fontFamily: FONT },
      splitLine: { show: false },
    });

    graphic.push({
      type: "text", z: 10, x: left + width / 2, y: top - 16,
      style: { text: p.name, fill: "#222", font: `22px ${FONT}`, textAlign: "center", textVerticalAlign: "middle" },
    });

    series.push({
      type: "line", name: p.name + " dashed", xAxisIndex: 2 * i, yAxisIndex: i, data: p.dashed,
      symbol: "none", lineStyle: { color: "#b4b4b4", width: 1.5, type: [5, 3] }, z: 2, silent: true,
    });
    series.push({
      type: "line", name: p.name, xAxisIndex: 2 * i, yAxisIndex: i, data: p.solid,
      symbol: "none", lineStyle: { color: "#6b6b6b", width: 1.5 }, z: 3, silent: true,
      markLine: {
        silent: true, symbol: ["none", "none"], label: { show: false }, animation: false,
        data: [
          ...p.events.map((yr, k) => ({
            xAxis: yr,
            lineStyle: p.tones[k] === "d"
              ? { color: "#707070", width: 1, type: "solid" }
              : { color: "#aaaaaa", width: 1.6, type: "solid" },
          })),
          { yAxis: 0, lineStyle: { color: "#555555", width: 1.2, type: "solid" } },
        ],
      },
    });
    series.push({
      type: "scatter", name: p.name + " regimes", xAxisIndex: 2 * i, yAxisIndex: i,
      data: p.regimes.map(([t, x, y]) => ({ name: t, value: [x, y] })),
      symbolSize: 1, itemStyle: { color: "rgba(0,0,0,0)" }, silent: true, z: 6,
      label: { show: true, position: "inside", formatter: "{b}", fontSize: 10, color: "#333", fontFamily: FONT },
    });
  });

  return {
    animation: false,
    backgroundColor: "#ffffff",
    textStyle: { fontFamily: FONT },
    grid, xAxis, yAxis, series, graphic,
  };
}

export default function App() {
  const ref = useRef<HTMLDivElement>(null);
  useEffect(() => {
    if (!ref.current) return;
    const chart = echarts.init(ref.current, undefined, { renderer: "svg" });
    chart.setOption(buildOption());
    return () => chart.dispose();
  }, []);
  return <div ref={ref} style={{ position: "absolute", left: 0, top: 0, width: 886, height: 1304 }} />;
}
